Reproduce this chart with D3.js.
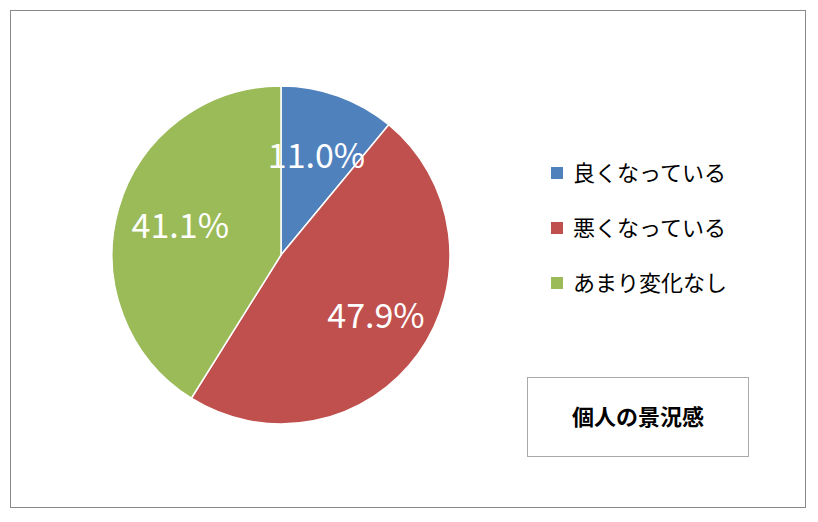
<!DOCTYPE html>
<html><head><meta charset="utf-8">
<script src="https://cdn.jsdelivr.net/npm/d3@7"></script>
<style>body{margin:0;background:#fff}</style></head>
<body><svg id="c" width="818" height="522"></svg>
<script>
const categories = ["良くなっている","悪くなっている","あまり変化なし"];
const values = [11.0, 47.9, 41.1];
const colors = ["#4F81BD","#C0504D","#9BBB59"];
const title = "個人の景況感";
const font = "'Noto Sans CJK JP','Noto Sans',sans-serif";

const svg = d3.select("#c");
svg.append("rect").attr("x",10.5).attr("y",10.5).attr("width",795).attr("height",497)
  .attr("fill","#fff").attr("stroke","#888").attr("stroke-width",1);

const cx=281, cy=255, r=169;
const pie = d3.pie().sort(null).value(d=>d)(values);
const arc = d3.arc().innerRadius(0).outerRadius(r);
const g = svg.append("g").attr("transform",`translate(${cx},${cy})`);
g.selectAll("path").data(pie).join("path").attr("d",arc)
  .attr("fill",(d,i)=>colors[i]).attr("stroke","#fff").attr("stroke-width",1.5);
const labelArc = d3.arc().innerRadius(r*0.62).outerRadius(r*0.62);
const offsets=[[0,0],[10,0],[0,0]];
g.selectAll("text").data(pie).join("text")
  .attr("transform",(d,i)=>{const p=labelArc.centroid(d);return `translate(${p[0]+offsets[i][0]},${p[1]+offsets[i][1]})`;})
  .attr("text-anchor","middle").attr("dy","0.35em")
  .attr("fill","#fff").attr("font-size",34).attr("font-family",font)
  .text(d=>d.data.toFixed(1)+"%");

const ly = d3.scalePoint().domain(categories).range([173,283]);
const lg = svg.append("g");
categories.forEach((c,i)=>{
  lg.append("rect").attr("x",551).attr("y",ly(c)-6).attr("width",12).attr("height",12).attr("fill",colors[i]);
  lg.append("text").attr("x",573).attr("y",ly(c)).attr("dy","0.36em")
    .attr("font-size",22).attr("font-family",font).attr("fill","#000").text(c);
});

svg.append("rect").attr("x",527.5).attr("y",377.5).attr("width",221).attr("height",79)
  .attr("fill","#fff").attr("stroke","#aaa");
svg.append("text").attr("x",638).attr("y",417).attr("dy","0.36em").attr("text-anchor","middle")
  .attr("font-size",22).attr("font-weight","bold").attr("font-family",font).text(title);
</script></body></html>
